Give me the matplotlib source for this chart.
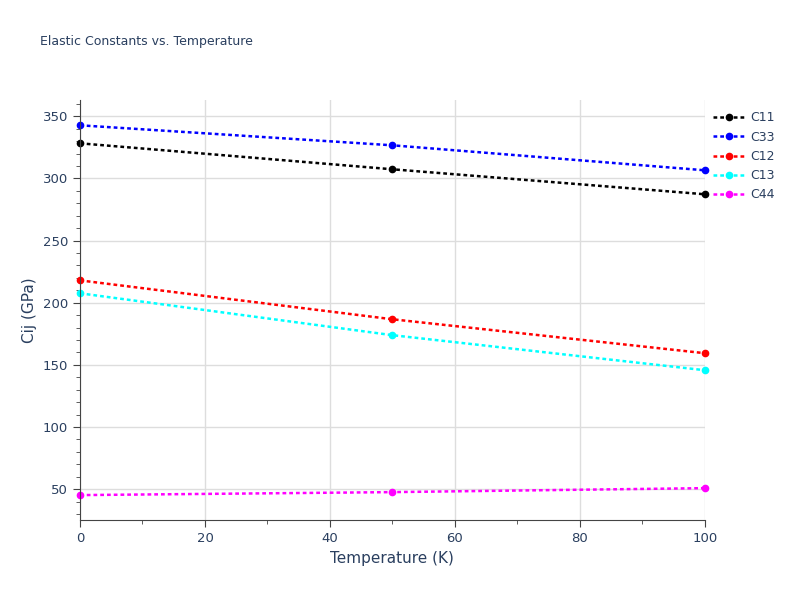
import matplotlib
matplotlib.use("Agg")
import matplotlib.pyplot as plt
from matplotlib.ticker import MultipleLocator

temps = [0, 50, 100]
c11 = [328.3, 307.4, 287.3]
c33 = [342.8, 326.7, 306.6]
c12 = [218.0, 186.7, 159.4]
c13 = [207.6, 173.9, 145.7]
c44 = [45.2, 47.6, 50.8]

series = [("C11", c11, "black"), ("C33", c33, "blue"), ("C12", c12, "red"),
          ("C13", c13, "cyan"), ("C44", c44, "magenta")]

fig = plt.figure(figsize=(8, 6), dpi=100)
ax = fig.add_axes([0.1, 0.133, 0.781, 0.7])
for name, vals, col in series:
    ax.plot(temps, vals, linestyle=(0, (1.5, 1.2)), lw=1.8, color=col,
            marker="o", markersize=4.5, label=name, clip_on=False)

ax.set_xlim(0, 100); ax.set_ylim(25, 363)
ax.xaxis.set_major_locator(MultipleLocator(20))
ax.xaxis.set_minor_locator(MultipleLocator(10))
ax.yaxis.set_major_locator(MultipleLocator(50))
ax.yaxis.set_minor_locator(MultipleLocator(10))
ax.grid(True, which="major", color="#dddddd", lw=1)
for s in ["top", "right"]:
    ax.spines[s].set_visible(False)
for s in ["left", "bottom"]:
    ax.spines[s].set_color("#444444")
ax.tick_params(colors="#2a3f5f", labelsize=9.5)
ax.tick_params(which="major", length=5, color="#444444")
ax.tick_params(which="minor", length=3, color="#444444")
ax.set_xlabel("Temperature (K)", color="#2a3f5f", fontsize=11)
ax.set_ylabel("Cij (GPa)", color="#2a3f5f", fontsize=11)
fig.text(0.05, 0.925, "Elastic Constants vs. Temperature", color="#2a3f5f", fontsize=9)
ax.legend(loc="upper left", bbox_to_anchor=(0.995, 1.0), frameon=False,
          fontsize=9, labelcolor="#2a3f5f", handlelength=2.5, handletextpad=0.5)
fig.savefig("out.png")
